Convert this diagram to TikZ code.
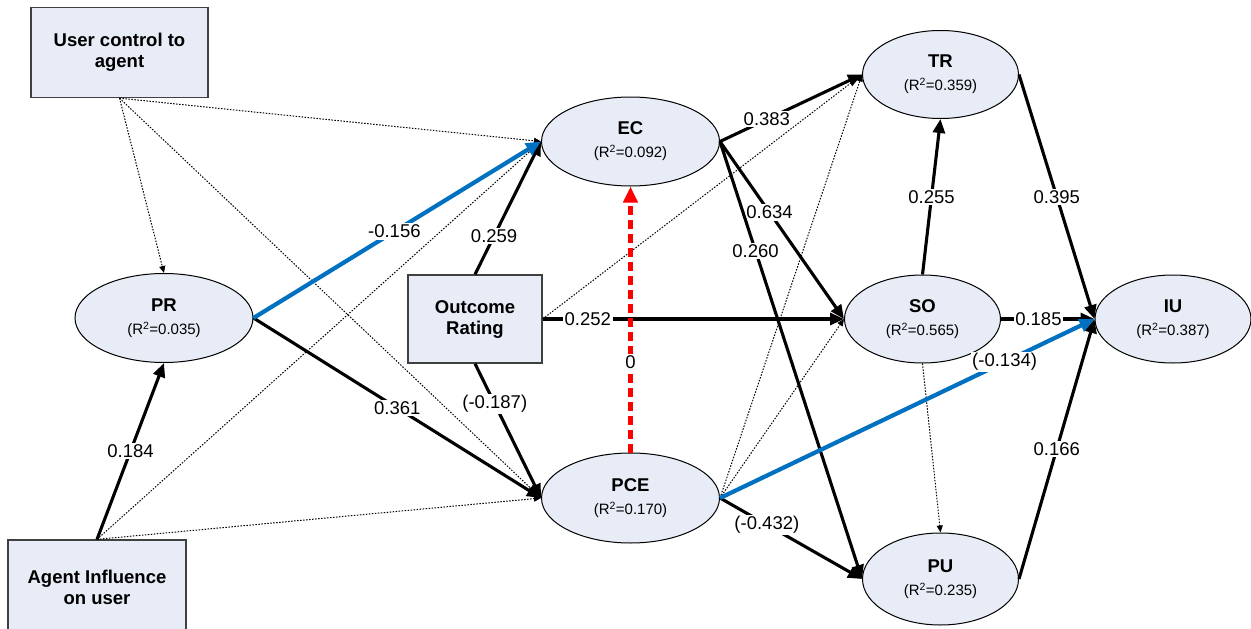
\documentclass[tikz,border=0pt]{standalone}
\usepackage{fontspec}
\setmainfont{Liberation Sans}
\usetikzlibrary{arrows.meta,shapes.geometric}

\definecolor{boxfill}{RGB}{231,236,246}
\definecolor{pathblue}{RGB}{0,112,192}
\definecolor{rimgray}{RGB}{64,64,64}
\definecolor{nullred}{RGB}{255,0,0}

\newcommand{\rsq}[1]{{\fontsize{15}{17}\selectfont (R\textsuperscript{2}=#1)}}

\tikzset{
  construct/.style={ellipse, draw=black, line width=1pt, fill=boxfill,
    inner sep=0pt, align=center, font=\fontsize{18.5}{21}\selectfont},
  widevar/.style={construct, minimum width=178pt, minimum height=89pt},
  narrowvar/.style={construct, minimum width=156pt, minimum height=88pt},
  factor/.style={rectangle, draw=rimgray, line width=1.3pt, fill=boxfill,
    inner sep=0pt, align=center, font=\bfseries\fontsize{18.5}{21}\selectfont},
  sig/.style={draw=black, line width=3.1pt, -{Triangle[length=14pt,width=12pt]}},
  negpath/.style={draw=pathblue, line width=4.2pt, -{Triangle[length=15pt,width=13pt]}},
  nullpath/.style={draw=nullred, line width=4.4pt, dash pattern=on 9pt off 5pt,
    -{Triangle[length=16pt,width=14pt]}},
  nonsig/.style={draw=black, line width=1pt, dash pattern=on 1.5pt off 1.5pt,
    -{Triangle[length=7pt,width=6pt]}},
  coef/.style={fill=white, inner sep=1.5pt, text=black, font=\fontsize{18.5}{20}\selectfont},
}

\begin{document}
\begin{tikzpicture}[x=1pt, y=-1pt]
  \useasboundingbox (0,0) rectangle (1251,629);
  \clip (0,0) rectangle (1251,629);

  % exogenous factors
  \node[factor, minimum width=177pt, minimum height=90pt] (uc) at (119.5,52.5) {User control to\\agent};
  \node[factor, minimum width=178pt, minimum height=95pt] (ai) at (97,587.5) {Agent Influence\\on user};
  \node[factor, minimum width=134pt, minimum height=88pt] (or) at (475,319) {Outcome\\Rating};

  % latent constructs
  \node[widevar] (pr)  at (164,318)     {\textbf{PR}\\[2pt]\rsq{0.035}};
  \node[widevar] (ec)  at (630.5,141.5) {\textbf{EC}\\[2pt]\rsq{0.092}};
  \node[widevar, minimum height=90pt] (pce) at (630.5,498) {\textbf{PCE}\\[2pt]\rsq{0.170}};
  \node[narrowvar] (tr) at (940.5,74.5) {\textbf{TR}\\[2pt]\rsq{0.359}};
  \node[narrowvar] (so) at (922.5,319)  {\textbf{SO}\\[2pt]\rsq{0.565}};
  \node[narrowvar, minimum height=92pt] (pu) at (940.5,579) {\textbf{PU}\\[2pt]\rsq{0.235}};
  \node[narrowvar] (iu) at (1173,319)   {\textbf{IU}\\[2pt]\rsq{0.387}};

  % non-significant paths
  \draw[nonsig] (uc.south) -- (pr.north);
  \draw[nonsig] (uc.south) -- (ec.west);
  \draw[nonsig] (uc.south) -- (pce.west);
  \draw[nonsig] (ai.north) -- (ec.west);
  \draw[nonsig] (ai.north) -- (pce.west);
  \draw[nonsig] (or.east) -- (tr.west);
  \draw[nonsig] (pce.east) -- (tr.west);
  \draw[nonsig] (pce.east) -- (so.west);
  \draw[nonsig] (so.south) -- (pu.north);

  % significant positive paths
  \draw[sig] (ai.north) -- (pr.south) node[coef, pos=0.5] {0.184};
  \draw[sig] (pr.east) -- (pce.west) node[coef, pos=0.5] {0.361};
  \draw[sig] (or.north) -- (ec.west) node[coef, pos=0.29] {0.259};
  \draw[sig] (or.south) -- (pce.west) node[coef, pos=0.3] {(-0.187)};
  \draw[sig] (or.east) -- (so.west) node[coef, pos=0.15] {0.252};
  \draw[sig] (ec.east) -- (tr.west) node[coef, pos=0.33] {0.383};
  \draw[sig] (ec.east) -- (so.west) node[coef, pos=0.4] {0.634};
  \draw[sig] (ec.east) -- (pu.west) node[coef, pos=0.25] {0.260};
  \draw[sig] (pce.east) -- (pu.west) node[coef, pos=0.33] {(-0.432)};
  \draw[sig] (so.north) -- (tr.south) node[coef, pos=0.5] {0.255};
  \draw[sig] (tr.east) -- (iu.west) node[coef, pos=0.5] {0.395};
  \draw[sig] (so.east) -- (iu.west) node[coef, pos=0.4] {0.185};
  \draw[sig] (pu.east) -- (iu.west) node[coef, pos=0.5] {0.166};

  % negative paths
  \draw[negpath] (pr.east) -- (ec.west) node[coef, pos=0.49] {-0.156};
  \draw[negpath] (pce.east) -- (iu.west) node[coef, pos=0.76] {(-0.134)};

  % null path
  \draw[nullpath] (pce.north) -- (ec.south) node[coef, pos=0.34] {0};
\end{tikzpicture}
\end{document}
